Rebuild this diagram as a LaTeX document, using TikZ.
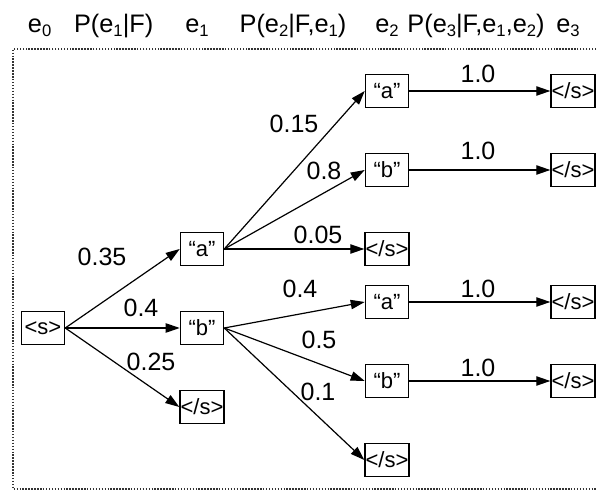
\documentclass[tikz,border=0pt]{standalone}
\usepackage{fontspec}
\setmainfont{Liberation Sans}
\usetikzlibrary{arrows.meta}
\tikzstyle{box} = [rectangle, draw=black, line width=0.9pt, minimum width=32.5pt, minimum height=25pt, inner sep=0.5pt, text centered, font=\fontsize{16.5}{18}\selectfont]
\tikzstyle{lbl} = [inner sep=0pt, font=\fontsize{18.75}{20}\selectfont]
\tikzstyle{head} = [inner sep=0pt, anchor=base, font=\fontsize{19}{21}\selectfont]
\tikzstyle{arrow} = [line width=0.9pt, -{Triangle[length=10.5pt, width=7pt]}]
\tikzstyle{frame} = [line width=0.9pt, black!80, dash pattern=on 1.1pt off 1.1pt]
\newcommand{\lowidx}[1]{\raisebox{-3pt}{\fontsize{12.5}{12.5}\selectfont #1}}

\begin{document}
\begin{tikzpicture}[node distance=59.25pt]
    \useasboundingbox (-32.25pt,-123pt) rectangle (415.5pt,246pt);
    \draw [frame] (417pt,209.25pt) -| (-22.5pt,-120.75pt) -- (417pt,-120.75pt);
    % header
    \node (e0) [head] at (-2.5pt,221.25pt) {e\lowidx{0}};
    \node (pe1) [head] at (53pt,221.25pt) {P(e\lowidx{1}|F)};
    \node (e1) [head] at (115.5pt,221.25pt) {e\lowidx{1}};
    \node (pe2) [head] at (187.5pt,221.25pt) {P(e\lowidx{2}|F,e\lowidx{1})};
    \node (e2) [head] at (258pt,221.25pt) {e\lowidx{2}};
    \node (pe3) [head] at (324.75pt,221.25pt) {P(e\lowidx{3}|F,e\lowidx{1},e\lowidx{2})};
    \node (e3) [head] at (393.75pt,221.25pt) {e\lowidx{3}};
    % tree
    \node (start) [box] {<s>};
    \node (b1) [box, right of=start, xshift=60pt] {“b”};
    \node (a1) [box, above of=b1] {“a”};
    \node (stop1) [box, below of=b1] {</s>};
    \node (stop2) [box, right of=a1, xshift=79.5pt] {</s>};
    \node (b2) [box, above of=stop2] {“b”};
    \node (a2) [box, above of=b2] {“a”};
    \node (a3) [box, right of=b1, xshift=79.5pt, yshift=19.5pt] {“a”};
    \node (b3) [box, below of=a3] {“b”};
    \node (stop3) [box, below of=b3] {</s>};
    \node (stop4) [box, right of=a2, xshift=80.25pt] {</s>};
    \node (stop5) [box, right of=b2, xshift=80.25pt] {</s>};
    \node (stop6) [box, right of=a3, xshift=80.25pt] {</s>};
    \node (stop7) [box, right of=b3, xshift=80.25pt] {</s>};
    \draw [arrow] (start.east) -- (a1.west);
    \draw [arrow] (start.east) -- (b1.west);
    \draw [arrow] (start.east) -- (stop1.west);
    \draw [arrow] (a1.east) -- (a2.west);
    \draw [arrow] (a1.east) -- (b2.west);
    \draw [arrow] (a1.east) -- (stop2.west);
    \draw [arrow] (b1.east) -- (a3.west);
    \draw [arrow] (b1.east) -- (b3.west);
    \draw [arrow] (b1.east) -- (stop3.west);
    \draw [arrow] (a2) -- (stop4);
    \draw [arrow] (b2) -- (stop5);
    \draw [arrow] (a3) -- (stop6);
    \draw [arrow] (b3) -- (stop7);
    % probabilities
    \node (p35) [lbl] at (44.25pt,53.25pt) {0.35};
    \node (p4) [lbl] at (73.5pt,15pt) {0.4};
    \node (p25) [lbl] at (81pt,-25.5pt) {0.25};
    \node (p15) [lbl] at (188.25pt,153pt) {0.15};
    \node (p8) [lbl] at (210.75pt,117.75pt) {0.8};
    \node (p05) [lbl] at (206.25pt,69.75pt) {0.05};
    \node (q4) [lbl] at (192.75pt,29.25pt) {0.4};
    \node (q5) [lbl] at (207pt,-9pt) {0.5};
    \node (q1) [lbl] at (206.25pt,-48pt) {0.1};
    \node (r1) [lbl] at (326.25pt,190.5pt) {1.0};
    \node (r2) [lbl] at (326.25pt,132.75pt) {1.0};
    \node (r3) [lbl] at (326.25pt,29.25pt) {1.0};
    \node (r4) [lbl] at (326.25pt,-30pt) {1.0};
\end{tikzpicture}
\end{document}
